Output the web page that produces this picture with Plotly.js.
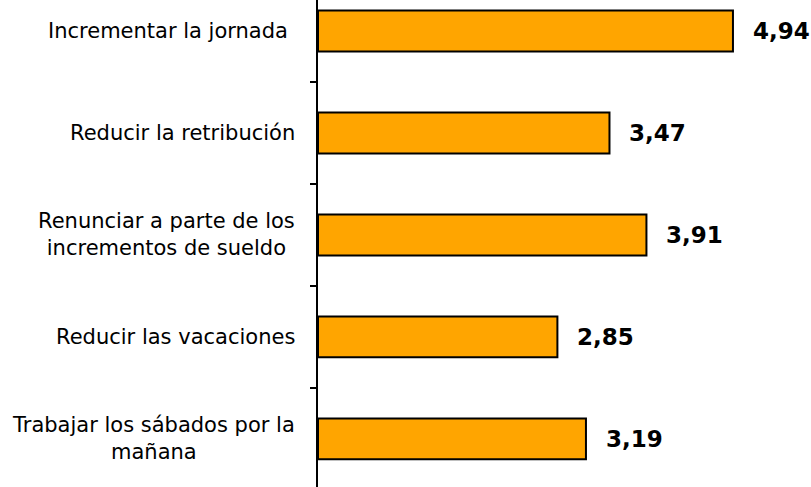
<!DOCTYPE html>
<html>
<head>
<meta charset="utf-8">
<script src="https://cdn.plot.ly/plotly-3.0.1.min.js"></script>
<style>
  html, body { margin: 0; padding: 0; background: #fff; }
  #chart { width: 811px; height: 487px; }
</style>
</head>
<body>
<div id="chart"></div>
<script>
// categories, top to bottom (the first one carries a trailing space in the source)
const categories = [
  "Incrementar la jornada\u00a0",
  "Reducir la retribución",
  "Renunciar a parte de los<br>incrementos de sueldo",
  "Reducir las vacaciones",
  "Trabajar los sábados por la<br>mañana"
];
const values = [4.94, 3.47, 3.91, 2.85, 3.19];
const valueLabels = values.map((v) => v.toFixed(2).replace(".", ","));

const trace = {
  type: "bar",
  orientation: "h",
  x: values,
  y: categories,
  width: 0.4,
  marker: {
    color: "#FFA500",
    line: { color: "#000", width: 2 },
  },
  hoverinfo: "skip",
};

// category labels drawn as annotations so multi-line text stays centred
let annotations = categories.map((c) => ({
  xref: "paper",
  yref: "y",
  x: 0,
  y: c,
  xanchor: "right",
  yanchor: "middle",
  xshift: -21,
  align: "center",
  showarrow: false,
  text: c,
  font: { family: "DejaVu Sans", size: 21, color: "#000" },
}));

// value labels to the right of each bar
annotations = annotations.concat(values.map((v, i) => ({
  xref: "x",
  yref: "y",
  x: v,
  y: categories[i],
  xanchor: "left",
  yanchor: "middle",
  xshift: 18,
  showarrow: false,
  text: "<b>" + valueLabels[i] + "</b>",
  font: { family: "DejaVu Sans", size: 23, color: "#000" },
})));

const layout = {
  width: 811,
  height: 487,
  margin: { l: 318, r: 0, t: 0, b: 0 },
  paper_bgcolor: "#fff",
  plot_bgcolor: "#fff",
  showlegend: false,
  xaxis: {
    range: [0, 493 / 84],
    visible: false,
    fixedrange: true,
  },
  yaxis: {
    type: "category",
    range: [4.471, -0.304],
    showline: true,
    linecolor: "#000",
    linewidth: 2,
    showgrid: false,
    zeroline: false,
    showticklabels: false,
    ticks: "outside",
    tickson: "boundaries",
    ticklen: 6,
    tickwidth: 1.5,
    tickcolor: "#000",
    fixedrange: true,
  },
  annotations: annotations,
};

Plotly.newPlot("chart", [trace], layout, { displayModeBar: false, staticPlot: true });
</script>
</body>
</html>
